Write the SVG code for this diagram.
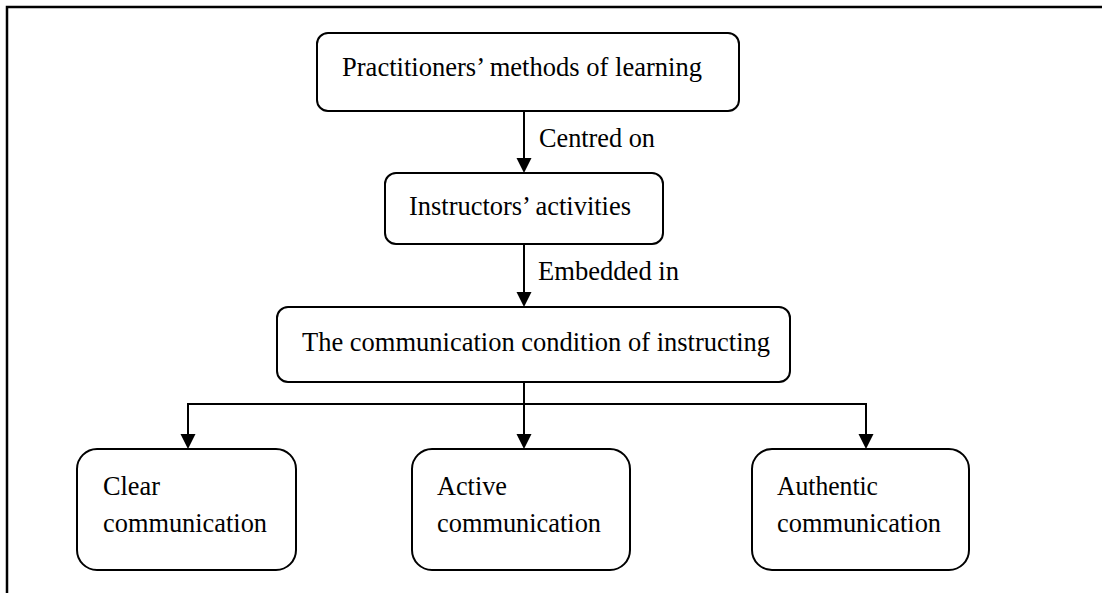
<svg xmlns="http://www.w3.org/2000/svg" width="1102" height="593" viewBox="0 0 1102 593">
<style>
.box{fill:#fff;stroke:#000;stroke-width:2}
text{font-family:'Liberation Serif','Times New Roman',serif;font-size:27.5px;fill:#000}
.ln{fill:none;stroke:#000;stroke-width:2}
.ah{fill:#000}
</style>
<rect width="1102" height="593" fill="#fff"/>
<path d="M7,593 V7 H1102" fill="none" stroke="#000" stroke-width="2.5"/>
<g id="connectors">
<line class="ln" x1="524" y1="111" x2="524" y2="159"/>
<path class="ah" d="M516.5,158 L531.5,158 L524,173 Z"/>
<text x="539" y="147" textLength="116" lengthAdjust="spacingAndGlyphs">Centred on</text>
<line class="ln" x1="524" y1="244" x2="524" y2="293"/>
<path class="ah" d="M516.5,292 L531.5,292 L524,307 Z"/>
<text x="538" y="280" textLength="141" lengthAdjust="spacingAndGlyphs">Embedded in</text>
<path class="ln" d="M524,382 V404 M188,435 V404 H866 V435 M524,404 V435"/>
<path class="ah" d="M180.5,434 L195.5,434 L188,449 Z M516.5,434 L531.5,434 L524,449 Z M858.5,434 L873.5,434 L866,449 Z"/>
</g>
<g id="n1">
<rect class="box" x="317" y="33" width="422" height="78" rx="11"/>
<text x="342" y="76" textLength="360" lengthAdjust="spacingAndGlyphs">Practitioners’ methods of learning</text>
</g>
<g id="n2">
<rect class="box" x="385" y="173" width="278" height="71" rx="11"/>
<text x="409" y="215" textLength="222" lengthAdjust="spacingAndGlyphs">Instructors’ activities</text>
</g>
<g id="n3">
<rect class="box" x="277" y="307" width="513" height="75" rx="11"/>
<text x="302" y="351" textLength="468" lengthAdjust="spacingAndGlyphs">The communication condition of instructing</text>
</g>
<g id="n4">
<rect class="box" x="77" y="449" width="219" height="121" rx="20"/>
<text x="103" y="495" textLength="57" lengthAdjust="spacingAndGlyphs">Clear</text>
<text x="103" y="532" textLength="164" lengthAdjust="spacingAndGlyphs">communication</text>
</g>
<g id="n5">
<rect class="box" x="412" y="449" width="218" height="121" rx="20"/>
<text x="437" y="495" textLength="70" lengthAdjust="spacingAndGlyphs">Active</text>
<text x="437" y="532" textLength="164" lengthAdjust="spacingAndGlyphs">communication</text>
</g>
<g id="n6">
<rect class="box" x="752" y="449" width="217" height="121" rx="20"/>
<text x="777" y="495" textLength="101" lengthAdjust="spacingAndGlyphs">Authentic</text>
<text x="777" y="532" textLength="164" lengthAdjust="spacingAndGlyphs">communication</text>
</g>
</svg>
